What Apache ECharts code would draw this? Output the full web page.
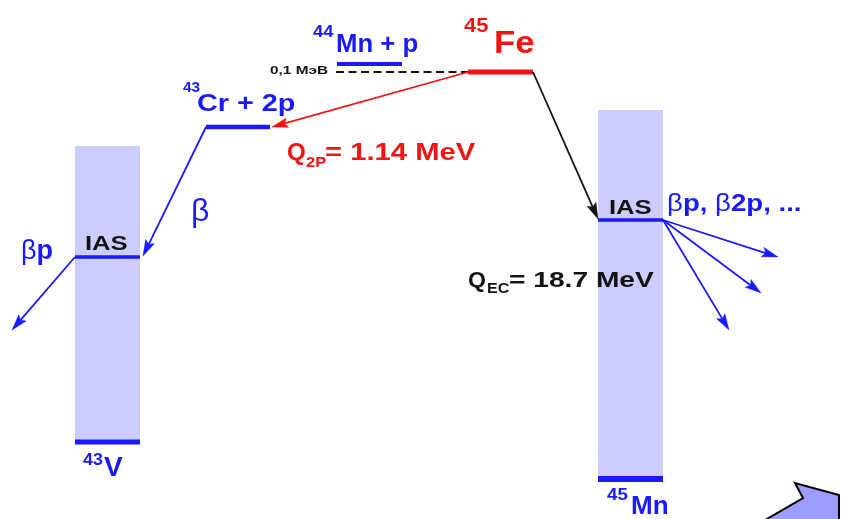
<!DOCTYPE html>
<html>
<head>
<meta charset="utf-8">
<script src="https://cdn.jsdelivr.net/npm/echarts@6/dist/echarts.min.js"></script>
<style>
html, body { margin: 0; padding: 0; background: #fff; }
#chart { width: 841px; height: 519px; }
</style>
</head>
<body>
<div id="chart"></div>
<script>
// Decay scheme of 45Fe drawn on a hidden x/y scale (y grows downward = lower energy)

// Nuclear levels
const levelNames = ['45Fe', '44Mn + p', '43Cr + 2p', 'IAS (43V)', '43V', 'IAS (45Mn)', '45Mn'];
const levelStart = [468, 337, 206, 75, 75, 598, 598];
const levelEnd   = [533, 402, 270, 140, 140, 663, 663];
const levelY     = [72, 64, 127, 257, 442, 220, 479];

// Shaded continua above the ground states of 43V and 45Mn
const bandStart  = [75, 598];
const bandEnd    = [140, 663];
const bandTop    = [146, 110];
const bandBottom = [442, 479];

// Proton-emission threshold line (0.1 MeV mark)
const thresholdStart = 336;
const thresholdEnd = 468;
const thresholdY = 72;

// Decay branches: start point, end point
const branchNames = ['2p', 'EC', 'beta', 'beta-p', 'beta-p 1', 'beta-p 2', 'beta-p 3'];
const branchFrom = [[468, 72], [533, 72], [206, 127], [75, 257], [663, 220], [663, 220], [663, 220]];
const branchTo   = [[272, 127], [598, 219], [143, 256], [12, 330], [778, 257], [761, 293], [729, 330]];

// Text pieces and their anchor points
const labelText = ['0,1 МэВ', '44', 'Mn + p', '45', 'Fe', '43', 'Cr + 2p',
  'Q', '2P', '= 1.14 MeV', '{g|β}', 'IAS', '{g|β}p', '43', 'V',
  'IAS', '{g|β}p, {g|β}2p, ...', 'Q', 'EC', '= 18.7 MeV', '45', 'Mn'];
const labelX = [270, 313, 336, 464, 494, 183, 197,
  287, 306, 325, 191, 85, 21, 83, 104,
  609, 667, 468, 487, 509, 607, 631];
const labelY = [71, 33, 45, 26, 44, 88, 104,
  154, 163, 154, 212, 244, 252, 460, 468,
  208, 204, 281, 289, 281, 495, 507];

// Outline of the block arrow in the lower-right corner
const cornerX = [760, 803, 795, 839, 839];
const cornerY = [523, 498, 483, 495, 523];

// ---- styling ----
const BLUE = '#1a1aff';
const RED = '#f01414';
const INK = '#141414';
const FONT = '"Liberation Sans", Arial, Helvetica, sans-serif';

const levelColor = [RED, BLUE, BLUE, BLUE, BLUE, BLUE, BLUE];
const levelWidth = [5, 4, 4.5, 3.5, 5, 3.5, 6];
const branchColor = [RED, INK, BLUE, BLUE, BLUE, BLUE, BLUE];
const labelColor = [INK, BLUE, BLUE, RED, RED, BLUE, BLUE,
  RED, RED, RED, BLUE, INK, BLUE, BLUE, BLUE,
  INK, BLUE, INK, INK, INK, BLUE, BLUE];
const labelSize = [11, 16, 25, 20, 31, 14, 24,
  23, 15, 23, 32, 20, 27, 17, 28,
  20, 24, 22, 14, 22, 17, 26];
const labelScaleX = [1.4, 1.15, 1.03, 1.1, 1.12, 1.1, 1.2,
  1.05, 1.1, 1.27, 1, 1.28, 1, 1.05, 1,
  1.28, 1.15, 1.05, 1.15, 1.28, 1.1, 1];

const chart = echarts.init(document.getElementById('chart'), null, { renderer: 'canvas' });

function renderBand(params, api) {
  const a = api.coord([api.value(0), api.value(2)]);
  const b = api.coord([api.value(1), api.value(3)]);
  return {
    type: 'rect',
    shape: { x: a[0], y: a[1], width: b[0] - a[0], height: b[1] - a[1] },
    style: { fill: '#ccccff' }
  };
}

function renderLevel(params, api) {
  const i = params.dataIndex;
  const a = api.coord([api.value(0), api.value(2)]);
  const b = api.coord([api.value(1), api.value(2)]);
  return {
    type: 'line',
    shape: { x1: a[0], y1: a[1], x2: b[0], y2: b[1] },
    style: { stroke: levelColor[i], lineWidth: levelWidth[i] }
  };
}

function renderThreshold(params, api) {
  const a = api.coord([api.value(0), api.value(2)]);
  const b = api.coord([api.value(1), api.value(2)]);
  return {
    type: 'line',
    shape: { x1: a[0], y1: a[1], x2: b[0], y2: b[1] },
    style: { stroke: INK, lineWidth: 2.2, lineDash: [8, 4.5] }
  };
}

function renderBranch(params, api) {
  const i = params.dataIndex;
  const p0 = api.coord([api.value(0), api.value(1)]);
  const p1 = api.coord([api.value(2), api.value(3)]);
  const dx = p1[0] - p0[0], dy = p1[1] - p0[1];
  const len = Math.hypot(dx, dy);
  const ux = dx / len, uy = dy / len;
  const nx = -uy, ny = ux;
  const L = 16, W = 4.8, N = 3;
  const bx = p1[0] - ux * L, by = p1[1] - uy * L;
  const cx = p1[0] - ux * (L - N), cy = p1[1] - uy * (L - N);
  const color = branchColor[i];
  return {
    type: 'group',
    children: [
      { type: 'line', shape: { x1: p0[0], y1: p0[1], x2: cx, y2: cy },
        style: { stroke: color, lineWidth: 1.8 } },
      { type: 'polygon',
        shape: { points: [[p1[0], p1[1]], [bx + nx * W, by + ny * W], [cx, cy], [bx - nx * W, by - ny * W]] },
        style: { fill: color, stroke: color, lineWidth: 0.5 } }
    ]
  };
}

function renderLabel(params, api) {
  const i = params.dataIndex;
  const p = api.coord([api.value(0), api.value(1)]);
  const size = labelSize[i];
  const color = labelColor[i];
  return {
    type: 'text',
    x: p[0], y: p[1],
    scaleX: labelScaleX[i],
    style: {
      text: labelText[i],
      fill: color,
      fontSize: size,
      fontWeight: 'bold',
      fontFamily: FONT,
      font: 'bold ' + size + 'px ' + FONT,
      textAlign: 'left', align: 'left',
      textVerticalAlign: 'middle', verticalAlign: 'middle',
      rich: {
        g: { fill: color, fontSize: size, fontWeight: 'normal', fontFamily: FONT }
      }
    }
  };
}

function renderCorner(params, api) {
  const pts = cornerX.map((x, k) => api.coord([x, cornerY[k]]));
  return {
    type: 'polygon',
    shape: { points: pts },
    style: { fill: '#9d9dff', stroke: '#000', lineWidth: 2, lineJoin: 'miter' }
  };
}

chart.setOption({
  animation: false,
  backgroundColor: '#ffffff',
  grid: { left: 0, right: 0, top: 0, bottom: 0 },
  xAxis: { type: 'value', min: 0, max: 841, show: false },
  yAxis: { type: 'value', min: 0, max: 519, inverse: true, show: false },
  series: [
    {
      name: 'continuum', type: 'custom', renderItem: renderBand, silent: true,
      encode: { x: [0, 1], y: [2, 3] },
      data: bandStart.map((x, k) => [x, bandEnd[k], bandTop[k], bandBottom[k]])
    },
    {
      name: 'threshold', type: 'custom', renderItem: renderThreshold, silent: true,
      encode: { x: [0, 1], y: 2 },
      data: [[thresholdStart, thresholdEnd, thresholdY]]
    },
    {
      name: 'levels', type: 'custom', renderItem: renderLevel, silent: true,
      encode: { x: [0, 1], y: 2 },
      data: levelNames.map((n, k) => [levelStart[k], levelEnd[k], levelY[k]])
    },
    {
      name: 'branches', type: 'custom', renderItem: renderBranch, silent: true,
      encode: { x: [0, 2], y: [1, 3] },
      data: branchNames.map((n, k) => [branchFrom[k][0], branchFrom[k][1], branchTo[k][0], branchTo[k][1]])
    },
    {
      name: 'corner', type: 'custom', renderItem: renderCorner, silent: true,
      encode: { x: 0, y: 1 },
      data: [[cornerX[0], cornerY[0]]]
    },
    {
      name: 'labels', type: 'custom', renderItem: renderLabel, silent: true,
      encode: { x: 0, y: 1 },
      data: labelText.map((t, k) => [labelX[k], labelY[k]])
    }
  ]
});
</script>
</body>
</html>
